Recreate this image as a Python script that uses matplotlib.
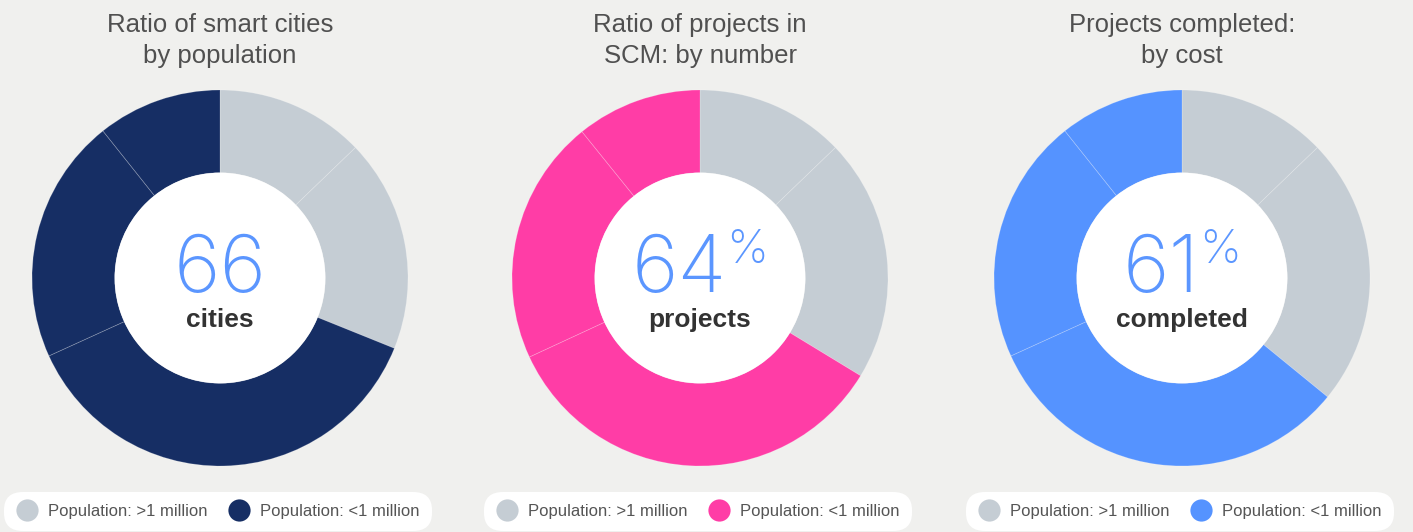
import matplotlib.pyplot as plt
from matplotlib.lines import Line2D
from matplotlib.patches import Circle

plt.rcParams['font.family'] = ['Liberation Sans', 'DejaVu Sans']

# chart texts
titles = [["Ratio of smart cities", "by population"],
          ["Ratio of projects in", "SCM: by number"],
          ["Projects completed:", "by cost"]]
big_numbers = ["66", "64", "61"]
show_percent = [False, True, True]
sub_labels = ["cities", "projects", "completed"]
legend_labels = ["Population: >1 million", "Population: <1 million"]

# slice shares (%), clockwise from 12 o'clock: two grey slices, then three coloured ones
smart_cities = [12.8, 18.3, 37.1, 21.1, 10.7]
projects_number = [12.8, 20.9, 34.4, 21.1, 10.8]
projects_cost = [12.8, 23.1, 32.3, 21.1, 10.7]
series = [smart_cities, projects_number, projects_cost]
n_grey = 2

BG = "#f0f0ee"
GREY = "#c5cdd4"
accents = ["#162e64", "#ff3da6", "#5593ff"]
NUM_COLOR = "#5b96ff"
NUM_FONT = ['Inter', 'Liberation Sans', 'DejaVu Sans']

W, H = 1413, 532
fig = plt.figure(figsize=(W / 100, H / 100), dpi=100, facecolor=BG)

centers_x = [220, 700, 1182]
cy = 278
R = 188
hole = 0.56

for i, vals in enumerate(series):
    cx = centers_x[i]
    ax = fig.add_axes([(cx - R) / W, (H - cy - R) / H, 2 * R / W, 2 * R / H])
    cols = [GREY] * n_grey + [accents[i]] * (len(vals) - n_grey)
    ax.pie(vals, colors=cols, startangle=90, counterclock=False, radius=1,
           wedgeprops=dict(width=1 - hole, edgecolor=(1, 1, 1, 0.22), linewidth=0.6))
    ax.add_patch(Circle((0, 0), hole, facecolor='white', edgecolor='none', zorder=3))
    ax.set_xlim(-1, 1)
    ax.set_ylim(-1, 1)
    ax.axis('off')

    # title, two lines
    fig.text(cx / W, 1 - 32 / H, titles[i][0], ha='center', va='baseline',
             fontsize=18.5, color='#505050')
    fig.text(cx / W, 1 - 63 / H, titles[i][1], ha='center', va='baseline',
             fontsize=18.5, color='#505050')

    # big number in the middle
    num = ax.text(0, -14 / R, big_numbers[i], ha='center', va='baseline',
                  fontsize=57.5, family=NUM_FONT, fontweight='light',
                  color=NUM_COLOR, zorder=5)
    if show_percent[i]:
        pct = ax.text(0, 15 / R, "%", ha='left', va='baseline', fontsize=34,
                      family=NUM_FONT, fontweight='light',
                      color=NUM_COLOR, zorder=5)
        rend = fig.canvas.get_renderer()
        wn = num.get_window_extent(rend).width
        wp = pct.get_window_extent(rend).width
        total = wn + wp
        num.set_x((-total / 2 + wn / 2) / R)
        pct.set_x((-total / 2 + wn) / R)

    ax.text(0, -49 / R, sub_labels[i], ha='center', va='baseline', fontsize=19,
            fontweight='bold', color='#333333', zorder=5)

    handles = [Line2D([], [], marker='o', linestyle='none', markersize=16,
                      markerfacecolor=c, markeredgecolor='none')
               for c in (GREY, accents[i])]
    leg = fig.legend(handles, legend_labels, loc='lower center',
                     bbox_to_anchor=((cx - 2) / W, 1 / H), ncol=2, fontsize=12,
                     frameon=True, handlelength=1.3, handletextpad=0.6,
                     columnspacing=1.25, borderpad=0.72, borderaxespad=0,
                     labelcolor='#555555', framealpha=1)
    frame = leg.get_frame()
    frame.set_facecolor('white')
    frame.set_edgecolor('none')
    frame.set_boxstyle('round', pad=0, rounding_size=1.1)

fig.savefig('out.png', dpi=100, facecolor=BG)
